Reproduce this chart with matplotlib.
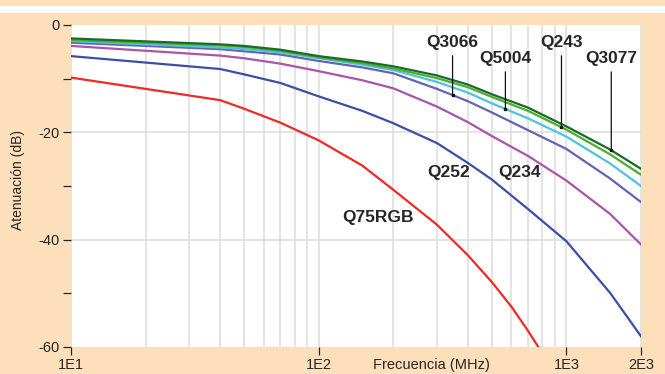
import matplotlib
matplotlib.use("Agg")
import numpy as np
import matplotlib.pyplot as plt
from matplotlib.patches import Rectangle

plt.rcParams["font.family"] = ["Liberation Sans", "DejaVu Sans"]
plt.rcParams["axes.unicode_minus"] = False

# frequency points (MHz)
freq = [10, 40, 50, 70, 100, 150, 200, 300, 400, 500, 700, 1000, 1500, 2000]

q3077 = [-2.5, -3.6, -3.9, -4.6, -5.8, -6.8, -7.7, -9.4, -11.1, -12.9, -15.4, -18.9, -23.2, -26.8]
q243 = [-2.8, -3.8, -4.1, -4.8, -6.0, -7.1, -8.1, -9.9, -11.6, -13.4, -16.0, -19.5, -24.1, -27.9]
q5004 = [-3.0, -4.2, -4.5, -5.1, -6.2, -7.4, -8.4, -10.6, -12.6, -14.6, -17.4, -20.8, -25.8, -30.0]
q3066 = [-3.3, -4.5, -4.9, -5.5, -6.7, -7.9, -9.0, -11.9, -14.2, -16.3, -19.6, -23.1, -28.6, -33.0]
q234 = [-3.9, -5.7, -6.2, -7.2, -8.6, -10.3, -11.8, -15.2, -18.1, -20.7, -24.4, -29.0, -35.2, -40.9]
q252 = [-5.8, -8.2, -9.2, -10.8, -13.3, -16.0, -18.3, -22.0, -25.7, -28.8, -34.3, -40.3, -49.9, -58.0]

freq_red = [10, 40, 50, 70, 100, 150, 200, 300, 400, 500, 600, 700, 800]
q75rgb = [-9.8, -14.0, -15.6, -18.2, -21.5, -26.2, -30.7, -37.2, -42.9, -47.9, -52.5, -57.0, -61.2]

series = [
    ("Q75RGB", freq_red, q75rgb, "#ee2a24"),
    ("Q252", freq, q252, "#3a4fa6"),
    ("Q234", freq, q234, "#aa55aa"),
    ("Q3066", freq, q3066, "#6762b3"),
    ("Q5004", freq, q5004, "#4cc4de"),
    ("Q243", freq, q243, "#4cad2f"),
    ("Q3077", freq, q3077, "#1b6a2c"),
]

# label text positions (freq, dB); pointer labels get a leader line down to the curve
labels_free = {"Q252": (334, -27.5), "Q234": (646, -27.5), "Q75RGB": (173, -35.8)}
labels_ptr = {
    "Q3066": (347, -3.3),
    "Q5004": (567, -6.3),
    "Q243": (955, -3.3),
    "Q3077": (1517, -6.3),
}

peach = "#fde0bb"
txt = "#262626"

fig = plt.figure(figsize=(6.65, 3.74), dpi=100, facecolor=peach)
fig.patches.append(Rectangle((0, 1 - 12.7 / 374), 1, 6.3 / 374,
                             transform=fig.transFigure, facecolor="white",
                             edgecolor="none", zorder=0))
ax = fig.add_axes([71 / 665, 27 / 374, 570 / 665, 322 / 374])
ax.set_facecolor("white")

for name, fx, fy, col in series:
    ax.plot(fx, fy, color=col, lw=1.6, solid_joinstyle="round", zorder=3)

ax.set_xscale("log")
ax.set_xlim(10, 2000)
ax.set_ylim(-60, 0)

ax.set_xticks([10, 100, 1000, 2000])
ax.set_xticklabels(["1E1", "1E2", "1E3", "2E3"])
ax.set_xticks([20, 30, 40, 50, 60, 70, 80, 90, 200, 300, 400, 500, 600, 700, 800, 900], minor=True)
ax.set_yticks([0, -20, -40, -60])
ax.set_yticks([-10, -30, -50], minor=True)

ax.tick_params(axis="both", which="major", labelsize=10.5, colors=txt, length=6, width=0.9, pad=2)
ax.tick_params(axis="x", which="minor", length=0)
ax.tick_params(axis="y", which="minor", length=6, width=0.9, color=txt)

for s in ax.spines.values():
    s.set_visible(False)

ax.grid(True, axis="x", which="both", color="#dcdcdc", lw=1.1, zorder=1)
for yv in [-20, -40]:
    ax.axhline(yv, color="#dcdcdc", lw=1.1, zorder=1)

ax.set_ylabel("Atenuación (dB)", fontsize=10, color=txt)
ax.yaxis.set_label_coords(-0.08, 0.52)
ax.set_xlabel("Frecuencia (MHz)", fontsize=10.5, color=txt)
ax.xaxis.set_label_coords(0.633, -0.033)

lookup = {name: (fx, fy) for name, fx, fy, col in series}

for name, (x, y) in labels_free.items():
    ax.text(x, y, name, fontsize=12.5, fontweight="bold", color=txt,
            ha="center", va="center", zorder=5)

for name, (x, y) in labels_ptr.items():
    fx, fy = lookup[name]
    # where the leader line meets its curve
    yc = float(np.interp(np.log10(x), np.log10(fx), fy))
    ax.annotate(name, xy=(x, yc), xytext=(x, y), fontsize=12.5, fontweight="bold",
                color=txt, ha="center", va="center", zorder=5,
                arrowprops=dict(arrowstyle="-", color="#111111", lw=0.9,
                                shrinkA=2, shrinkB=0))
    ax.plot(x, yc, marker="s", ms=2, color="#111111", zorder=6)

fig.savefig("out.png", dpi=100, facecolor=peach)
